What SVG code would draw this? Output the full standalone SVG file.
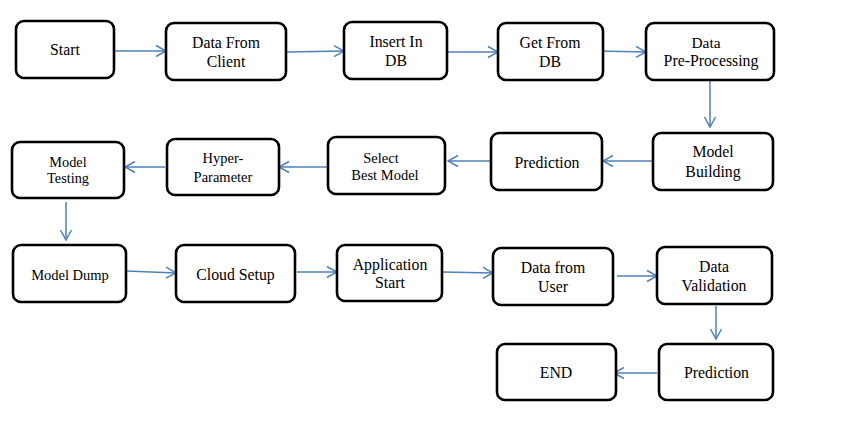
<svg xmlns="http://www.w3.org/2000/svg" width="843" height="442" viewBox="0 0 843 442">
<style>
.box{fill:#fff;stroke:#000;stroke-width:2.6;}
.t{font-family:'Liberation Serif',serif;font-size:15.8px;fill:#000;text-anchor:middle;}
.s{font-size:14.5px;}
.c{stroke:#4f81bd;stroke-width:1.5;fill:none;marker-end:url(#ah);}
</style>
<defs>
<marker id="ah" markerUnits="userSpaceOnUse" markerWidth="12" markerHeight="14" refX="11" refY="7" orient="auto">
<path d="M1,1.5 L11,7 L1,12.5" fill="none" stroke="#4f81bd" stroke-width="1.5"/>
</marker>
</defs>
<rect width="843" height="442" fill="#fff"/>
<g id="connectors">
<line class="c" x1="114" y1="51" x2="166" y2="51"/>
<line class="c" x1="286" y1="52" x2="344" y2="51"/>
<line class="c" x1="447" y1="52" x2="498" y2="52"/>
<line class="c" x1="598" y1="51" x2="646" y2="52"/>
<line class="c" x1="710" y1="80" x2="710" y2="127"/>
<line class="c" x1="653" y1="161" x2="603" y2="161"/>
<line class="c" x1="491" y1="161" x2="448" y2="161"/>
<line class="c" x1="328" y1="167" x2="279" y2="167"/>
<line class="c" x1="165" y1="167" x2="125" y2="167"/>
<line class="c" x1="66" y1="202" x2="66" y2="240"/>
<line class="c" x1="126" y1="271" x2="176" y2="273"/>
<line class="c" x1="297" y1="272" x2="337" y2="272"/>
<line class="c" x1="442" y1="272" x2="493" y2="273"/>
<line class="c" x1="617" y1="276" x2="657" y2="276"/>
<line class="c" x1="716" y1="306" x2="716" y2="339"/>
<line class="c" x1="657" y1="373" x2="614" y2="373"/>
</g>
<g id="nodes" font-family="Liberation Serif, serif">
<g id="start"><rect class="box" x="16" y="21" width="98" height="57" rx="8"/><text class="t" x="65" y="55">Start</text></g>
<g id="data-from-client"><rect class="box" x="166" y="23" width="120" height="57" rx="8"/><text class="t" x="226" y="48">Data From</text><text class="t" x="226" y="67">Client</text></g>
<g id="insert-in-db"><rect class="box" x="344" y="22" width="103" height="57" rx="8"/><text class="t" x="396" y="47">Insert In</text><text class="t" x="396" y="66">DB</text></g>
<g id="get-from-db"><rect class="box" x="498" y="23" width="105" height="57" rx="8"/><text class="t" x="550" y="48">Get From</text><text class="t" x="550" y="67">DB</text></g>
<g id="data-pre-processing"><rect class="box" x="646" y="23" width="128" height="57" rx="8"/><text class="t" x="706" y="48" style="font-size:15.4px">Data</text><text class="t" x="711" y="66">Pre-Processing</text></g>
<g id="model-building"><rect class="box" x="653" y="133" width="120" height="57" rx="8"/><text class="t" x="713" y="157">Model</text><text class="t" x="713" y="177">Building</text></g>
<g id="prediction-1"><rect class="box" x="491" y="133" width="111" height="57" rx="8"/><text class="t" x="547" y="168">Prediction</text></g>
<g id="select-best-model"><rect class="box" x="328" y="137" width="117" height="57" rx="8"/><text class="t s" x="381" y="163">Select</text><text class="t s" x="385" y="180">Best Model</text></g>
<g id="hyper-parameter"><rect class="box" x="167" y="139" width="112" height="56" rx="8"/><text class="t s" x="223" y="163">Hyper-</text><text class="t s" x="223" y="182">Parameter</text></g>
<g id="model-testing"><rect class="box" x="12" y="142" width="112" height="56" rx="8"/><text class="t" x="68" y="167" style="font-size:14.3px">Model</text><text class="t" x="68" y="183" style="font-size:14.3px">Testing</text></g>
<g id="model-dump"><rect class="box" x="13" y="245" width="113" height="57" rx="8"/><text class="t s" x="70" y="280">Model Dump</text></g>
<g id="cloud-setup"><rect class="box" x="176" y="245" width="119" height="57" rx="8"/><text class="t" x="235.5" y="280">Cloud Setup</text></g>
<g id="application-start"><rect class="box" x="337" y="245" width="105" height="56" rx="8"/><text class="t" x="390" y="270">Application</text><text class="t" x="390" y="288">Start</text></g>
<g id="data-from-user"><rect class="box" x="493" y="248" width="120" height="57" rx="8"/><text class="t" x="553" y="273">Data from</text><text class="t" x="553" y="292">User</text></g>
<g id="data-validation"><rect class="box" x="657" y="247" width="115" height="57" rx="8"/><text class="t" x="714" y="272">Data</text><text class="t" x="714" y="291">Validation</text></g>
<g id="prediction-2"><rect class="box" x="659" y="344" width="114" height="56" rx="8"/><text class="t" x="716.5" y="378">Prediction</text></g>
<g id="end"><rect class="box" x="497" y="344" width="119" height="56" rx="8"/><text class="t" x="556" y="378">END</text></g>
</g>
</svg>
